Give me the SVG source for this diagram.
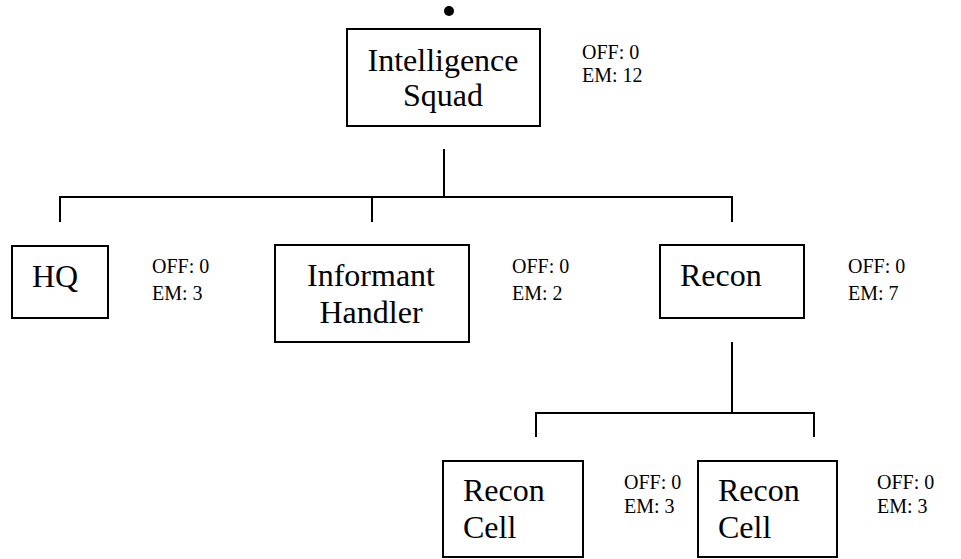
<svg xmlns="http://www.w3.org/2000/svg" width="961" height="559" viewBox="0 0 961 559">
<style>
.box{fill:#fff;stroke:#000;stroke-width:2}
.lbl{font-family:"Liberation Serif","Times New Roman",serif;font-size:32px;fill:#000}
.mid{text-anchor:middle}
.info{font-family:"Liberation Serif","Times New Roman",serif;font-size:20px;fill:#000}
.conn line{stroke:#000;stroke-width:2}
</style>
<rect width="961" height="559" fill="#fff"/>
<circle cx="449" cy="11" r="5" fill="#000"/>
<g id="connectors" class="conn">
<line x1="444" y1="149" x2="444" y2="197"/>
<line x1="60" y1="197" x2="732" y2="197"/>
<line x1="60" y1="196" x2="60" y2="222"/>
<line x1="372" y1="196" x2="372" y2="222"/>
<line x1="732" y1="196" x2="732" y2="222"/>
<line x1="732" y1="342" x2="732" y2="414"/>
<line x1="536" y1="413" x2="814" y2="413"/>
<line x1="536" y1="412" x2="536" y2="437"/>
<line x1="814" y1="412" x2="814" y2="437"/>
</g>
<g id="intelligence-squad">
<rect class="box" x="347" y="29" width="193" height="97"/>
<text class="lbl mid" x="443" y="71">Intelligence</text>
<text class="lbl mid" x="443" y="106">Squad</text>
<text class="info" x="582" y="59">OFF: 0</text>
<text class="info" x="582" y="82">EM: 12</text>
</g>
<g id="hq">
<rect class="box" x="12" y="246" width="96" height="72"/>
<text class="lbl mid" x="55" y="287">HQ</text>
<text class="info" x="152" y="273">OFF: 0</text>
<text class="info" x="152" y="300">EM: 3</text>
</g>
<g id="informant-handler">
<rect class="box" x="275" y="245" width="194" height="97"/>
<text class="lbl mid" x="371" y="286">Informant</text>
<text class="lbl mid" x="371" y="323">Handler</text>
<text class="info" x="512" y="273">OFF: 0</text>
<text class="info" x="512" y="300">EM: 2</text>
</g>
<g id="recon">
<rect class="box" x="660" y="245" width="144" height="73"/>
<text class="lbl" x="680" y="286">Recon</text>
<text class="info" x="848" y="273">OFF: 0</text>
<text class="info" x="848" y="300">EM: 7</text>
</g>
<g id="recon-cell-1">
<rect class="box" x="443" y="461" width="140" height="96"/>
<text class="lbl" x="463" y="501">Recon</text>
<text class="lbl" x="463" y="538">Cell</text>
<text class="info" x="624" y="489">OFF: 0</text>
<text class="info" x="624" y="513">EM: 3</text>
</g>
<g id="recon-cell-2">
<rect class="box" x="698" y="461" width="139" height="96"/>
<text class="lbl" x="718" y="501">Recon</text>
<text class="lbl" x="718" y="538">Cell</text>
<text class="info" x="877" y="489">OFF: 0</text>
<text class="info" x="877" y="513">EM: 3</text>
</g>
</svg>
